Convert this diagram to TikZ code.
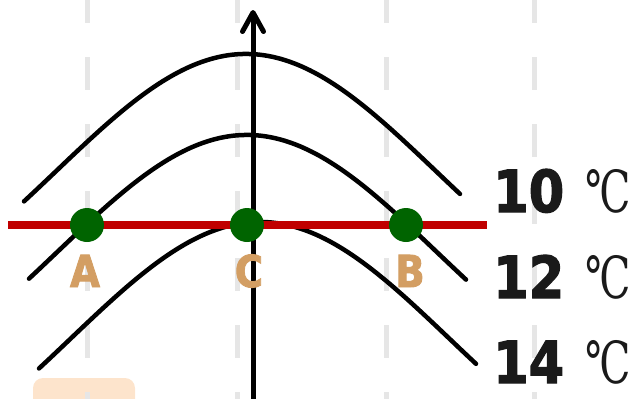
\documentclass[tikz,border=0pt]{standalone}
\usepackage{fontspec}
\newfontfamily\numfont{DejaVu Sans}[FakeStretch=0.88,FakeBold=2]
\newfontfamily\degfont{DejaVu Serif}[FakeStretch=0.7]
\definecolor{dashgray}{HTML}{E6E6E6}
\definecolor{linered}{HTML}{C00000}
\definecolor{dotgreen}{HTML}{006400}
\definecolor{labeltan}{HTML}{D39E63}
\definecolor{wmpeach}{HTML}{FDE4CC}
\definecolor{textdark}{HTML}{1A1A1A}
\begin{document}
\begin{tikzpicture}[x=1pt,y=-1pt,
  guide/.style={draw=dashgray, line width=5pt, dash pattern=on 33pt off 34pt},
  isoline/.style={draw=black, line width=4.5pt, line cap=round},
  axisline/.style={draw=black, line width=5pt},
  axishead/.style={draw=black, line width=5pt, line cap=round, line join=round},
  redline/.style={draw=linered, line width=7.5pt},
  dot/.style={circle, fill=dotgreen, minimum size=34pt, inner sep=0pt},
  ptlabel/.style={text=labeltan, font=\numfont\bfseries\fontsize{44}{44}\selectfont, anchor=base, inner sep=0pt},
  templabel/.style={text=textdark, font=\fontsize{58}{58}\selectfont, anchor=base west, inner sep=0pt}]
\useasboundingbox (0,0) rectangle (630,399);
\clip (0,0) rectangle (630,399);
% watermark
\fill[wmpeach, rounded corners=10pt] (33,378) rectangle (135,420);
% guides
\foreach \gx in {87,237,386,534} \draw[guide] (\gx,-10) -- (\gx,420);
% isolines
\draw[isoline] plot[domain=24:460, samples=120] (\x, {54 + 298*(1-exp(-0.5*((\x-246)/190)^2))});
\draw[isoline] plot[domain=29:466, samples=120] (\x, {135 + 298*(1-exp(-0.5*((\x-247)/190)^2))});
\draw[isoline] plot[domain=39:476, samples=120] (\x, {222 + 298*(1-exp(-0.5*((\x-260)/190)^2))});
% axis
\coordinate (axbot) at (253,405);
\coordinate (axtop) at (253,12.5);
\draw[axisline] (axbot) -- (axtop);
\draw[axishead] ([shift={(-10.5,19)}]axtop) -- (axtop) -- ([shift={(10.5,19)}]axtop);
% red line
\coordinate (rl) at (8,225);
\coordinate (rr) at (487,225);
\draw[redline] (rl) -- (rr);
% dots
\node[dot] (A) at (87,225) {};
\node[dot] (C) at (247,225) {};
\node[dot] (B) at (406,225) {};
\node[ptlabel] (labA) at (85,287) {A};
\node[ptlabel] (labC) at (249,287) {C};
\node[ptlabel] (labB) at (410,287) {B};
% temperatures
\node[templabel] (t10) at (493,212) {{\numfont\bfseries 10} \kern4pt{\degfont ℃}};
\node[templabel] (t12) at (493,298) {{\numfont\bfseries 12} \kern4pt{\degfont ℃}};
\node[templabel] (t14) at (493,383) {{\numfont\bfseries 14} \kern4pt{\degfont ℃}};
\end{tikzpicture}
\end{document}
